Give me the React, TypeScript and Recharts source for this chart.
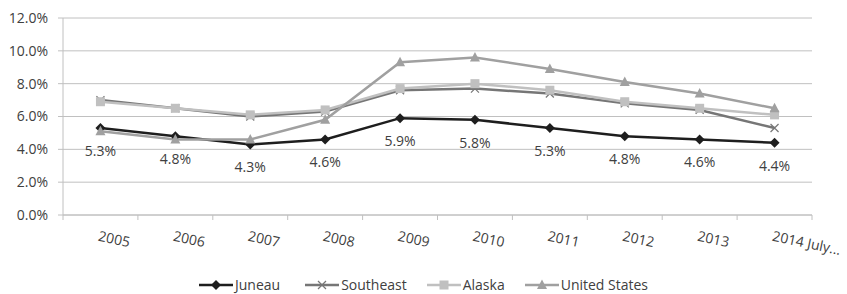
import React from "react";
import { LineChart, Line, XAxis, YAxis, CartesianGrid, Legend, LabelList } from "recharts";

const years = ["2005", "2006", "2007", "2008", "2009", "2010", "2011", "2012", "2013", "2014 July..."];
const juneau = [5.3, 4.8, 4.3, 4.6, 5.9, 5.8, 5.3, 4.8, 4.6, 4.4];
const southeast = [7.0, 6.5, 6.0, 6.3, 7.6, 7.7, 7.4, 6.8, 6.4, 5.3];
const alaska = [6.9, 6.5, 6.1, 6.4, 7.7, 8.0, 7.6, 6.9, 6.5, 6.1];
const unitedStates = [5.1, 4.6, 4.6, 5.8, 9.3, 9.6, 8.9, 8.1, 7.4, 6.5];
const yTicks = [0, 2, 4, 6, 8, 10, 12];

const data = years.map((year, i) => ({
  pos: i + 0.5, year,
  juneau: juneau[i], southeast: southeast[i], alaska: alaska[i], us: unitedStates[i],
}));

const W = 847, H = 294;
const M = { top: 18, right: 35, left: 0, bottom: 0 };
const Y_W = 63;
const BAND = (W - M.left - M.right - Y_W) / years.length;
const FONT = "'Open Sans', sans-serif";
const TXT = "#404040";

const COLORS = { juneau: "#1e1e1e", southeast: "#767676", alaska: "#c0c0c0", us: "#a0a0a0" };

function Marker({ kind, cx, cy, color }: { kind: string; cx: number; cy: number; color: string }) {
  if (kind === "diamond") return <path d={`M${cx} ${cy - 5}L${cx + 5} ${cy}L${cx} ${cy + 5}L${cx - 5} ${cy}Z`} fill={color} />;
  if (kind === "square") return <rect x={cx - 4.5} y={cy - 4.5} width={9} height={9} fill={color} />;
  if (kind === "triangle") return <path d={`M${cx} ${cy - 5.5}L${cx + 5} ${cy + 4}L${cx - 5} ${cy + 4}Z`} fill={color} />;
  return <path d={`M${cx - 4} ${cy - 4}L${cx + 4} ${cy + 4}M${cx + 4} ${cy - 4}L${cx - 4} ${cy + 4}`} stroke={color} strokeWidth={1.2} fill="none" />;
}

const dotOf = (kind: string, color: string) => (p: any) =>
  <Marker key={`${kind}-${p.index}`} kind={kind} cx={p.cx} cy={p.cy} color={color} />;

function XTick({ x, y, payload }: any) {
  const i = payload.value;
  if (i >= years.length) return null;
  return (
    <g transform={`translate(${x + BAND / 2 + 1},${y})`}>
      <text x={0} y={0} dy={19} transform="rotate(12)" textAnchor="start" fill={TXT} fontSize={14} fontFamily={FONT}>{years[i]}</text>
    </g>
  );
}

function JuneauLabel({ x, y, value }: any) {
  return <text x={x} y={y + 24} textAnchor="middle" dominantBaseline="middle" fill={TXT} fontSize={14} fontFamily={FONT}>{`${value.toFixed(1)}%`}</text>;
}

const legendItems = [
  { name: "Juneau", kind: "diamond", color: COLORS.juneau, gap: 25 },
  { name: "Southeast", kind: "x", color: COLORS.southeast, gap: 20 },
  { name: "Alaska", kind: "square", color: COLORS.alaska, gap: 20 },
  { name: "United States", kind: "triangle", color: COLORS.us, gap: 0 },
];

function LegendBox() {
  return (
    <div style={{ display: "flex", justifyContent: "center", alignItems: "center", marginTop: 7, fontFamily: FONT, fontSize: 14, lineHeight: "normal", color: TXT }}>
      {legendItems.map((it) => (
        <div key={it.name} style={{ display: "flex", alignItems: "center", marginRight: it.gap }}>
          <svg width={34} height={14}>
            <line x1={0} y1={7} x2={34} y2={7} stroke={it.color} strokeWidth={2.5} />
            <Marker kind={it.kind} cx={17} cy={7} color={it.color} />
          </svg>
          <span style={{ marginLeft: 2 }}>{it.name}</span>
        </div>
      ))}
    </div>
  );
}

export default function App() {
  return (
    <div style={{ position: "absolute", left: 0, top: 0, background: "#fff" }}>
      <LineChart width={W} height={H} data={data} margin={M}>
        <CartesianGrid stroke="#c0c0c0" vertical={false} />
        <XAxis dataKey="pos" type="number" domain={[0, years.length]} ticks={years.map((_, i) => i).concat(years.length)}
          interval={0} height={53} tick={<XTick />} tickSize={5} tickMargin={2}
          axisLine={{ stroke: "#c0c0c0" }} tickLine={{ stroke: "#c0c0c0" }} />
        <YAxis domain={[0, 12]} ticks={yTicks} width={Y_W} tickSize={5} tickMargin={10}
          tickFormatter={(v: number) => `${v.toFixed(1)}%`}
          tick={{ fill: TXT, fontSize: 14, fontFamily: FONT }}
          axisLine={{ stroke: "#c0c0c0" }} tickLine={{ stroke: "#c0c0c0" }} />
        <Legend verticalAlign="bottom" height={26} wrapperStyle={{ left: 0, width: W }} content={<LegendBox />} />
        <Line dataKey="juneau" name="Juneau" stroke={COLORS.juneau} strokeWidth={2.5} dot={dotOf("diamond", COLORS.juneau)} activeDot={false} isAnimationActive={false}>
          <LabelList dataKey="juneau" content={<JuneauLabel />} />
        </Line>
        <Line dataKey="southeast" name="Southeast" stroke={COLORS.southeast} strokeWidth={2.5} dot={dotOf("x", COLORS.southeast)} activeDot={false} isAnimationActive={false} />
        <Line dataKey="alaska" name="Alaska" stroke={COLORS.alaska} strokeWidth={2.5} dot={dotOf("square", COLORS.alaska)} activeDot={false} isAnimationActive={false} />
        <Line dataKey="us" name="United States" stroke={COLORS.us} strokeWidth={2.5} dot={dotOf("triangle", COLORS.us)} activeDot={false} isAnimationActive={false} />
      </LineChart>
    </div>
  );
}
